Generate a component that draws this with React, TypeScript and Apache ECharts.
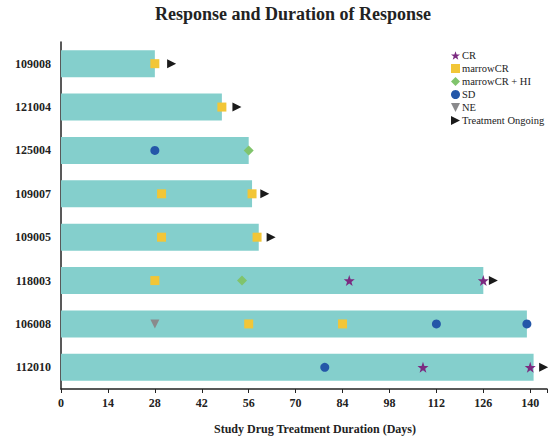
import React, { useEffect, useRef } from "react";
import * as echarts from "echarts";

const patients = ["109008", "121004", "125004", "109007", "109005", "118003", "106008", "112010"];
const durations = [28, 48, 56, 57, 59, 126, 139, 141];
const xTicks = [0, 14, 28, 42, 56, 70, 84, 98, 112, 126, 140];

const crPoints: [number, string][] = [[86, "118003"], [126, "118003"], [108, "112010"], [140, "112010"]];
const marrowCRPoints: [number, string][] = [
  [28, "109008"], [48, "121004"], [30, "109007"], [57, "109007"], [30, "109005"], [58.5, "109005"],
  [28, "118003"], [56, "106008"], [84, "106008"],
];
const marrowCRHIPoints: [number, string][] = [[56, "125004"], [54, "118003"]];
const sdPoints: [number, string][] = [[28, "125004"], [112, "106008"], [139, "106008"], [78.7, "112010"]];
const nePoints: [number, string][] = [[28, "106008"]];
const ongoingPoints: [number, string][] = [
  [33, "109008"], [52.5, "121004"], [60.8, "109007"], [62.7, "109005"], [129, "118003"], [144, "112010"],
];

const STAR = "path://M50,0L61.8,35.1L97.6,34.5L69,56.9L79.4,90.5L50,70.1L20.6,90.5L31,56.9L2.4,34.5L38.2,35.1Z";
const TRI_DOWN = "path://M0,0L10,0L5,10Z";
const TRI_RIGHT = "path://M0,0L10,5L0,10Z";

const SERIF = "'Liberation Serif', 'Times New Roman', serif";

export default function App() {
  const ref = useRef<HTMLDivElement>(null);
  useEffect(() => {
    const chart = echarts.init(ref.current!, undefined, { renderer: "svg" });
    const scatter = (name: string, data: [number, string][], symbol: string, color: string, size: number) => ({
      name,
      type: "scatter",
      data,
      symbol,
      symbolSize: size,
      itemStyle: { color, opacity: 1 },
      z: 5,
    });
    chart.setOption({
      animation: false,
      textStyle: { fontFamily: SERIF },
      grid: { left: 61, right: 1, top: 42, bottom: 47, containLabel: false },
      graphic: [
        {
          type: "text",
          x: 293,
          y: 14,
          style: {
            text: "Response and Duration of Response",
            font: `bold 18px ${SERIF}`,
            fill: "#222",
            textAlign: "center",
            textVerticalAlign: "middle",
          },
        },
        {
          type: "text",
          x: 315,
          y: 429,
          style: {
            text: "Study Drug Treatment Duration (Days)",
            font: `bold 12px ${SERIF}`,
            fill: "#222",
            textAlign: "center",
            textVerticalAlign: "middle",
          },
        },
      ],
      legend: {
        orient: "vertical",
        left: 446,
        top: 45,
        itemWidth: 9,
        itemHeight: 9,
        itemGap: 2,
        textStyle: { fontFamily: SERIF, fontSize: 10.5, color: "#222", padding: [0, 0, 0, -3] },
        data: ["CR", "marrowCR", "marrowCR + HI", "SD", "NE", "Treatment Ongoing"],
      },
      xAxis: {
        type: "value",
        min: 0,
        max: 145,
        interval: 14,
        axisLine: { show: true, lineStyle: { color: "#222", width: 1.5 } },
        axisTick: { show: true, length: 4, lineStyle: { color: "#222" } },
        splitLine: { show: false },
        axisLabel: {
          fontFamily: SERIF,
          fontWeight: "bold",
          fontSize: 12,
          color: "#222",
          margin: 8,
          formatter: (v: number) => (xTicks.includes(v) ? String(v) : ""),
        },
      },
      yAxis: {
        type: "category",
        data: patients,
        inverse: true,
        axisLine: { show: true, lineStyle: { color: "#222", width: 1.5 } },
        axisTick: { show: false },
        axisLabel: { fontFamily: SERIF, fontWeight: "bold", fontSize: 12, color: "#222", margin: 10 },
      },
      series: [
        {
          name: "Duration",
          type: "bar",
          data: durations,
          barCategoryGap: "38%",
          itemStyle: { color: "#84cfcc" },
          z: 2,
        },
        scatter("CR", crPoints, STAR, "#7b2a80", 11),
        scatter("marrowCR", marrowCRPoints, "rect", "#f2c637", 9),
        scatter("marrowCR + HI", marrowCRHIPoints, "diamond", "#80c46c", 10),
        scatter("SD", sdPoints, "circle", "#2457a8", 9),
        scatter("NE", nePoints, TRI_DOWN, "#8a8a8c", 9),
        scatter("Treatment Ongoing", ongoingPoints, TRI_RIGHT, "#1a1a1a", 9),
      ],
    });
    return () => chart.dispose();
  }, []);
  return <div ref={ref} style={{ position: "absolute", left: 0, top: 0, width: 550, height: 436 }} />;
}
